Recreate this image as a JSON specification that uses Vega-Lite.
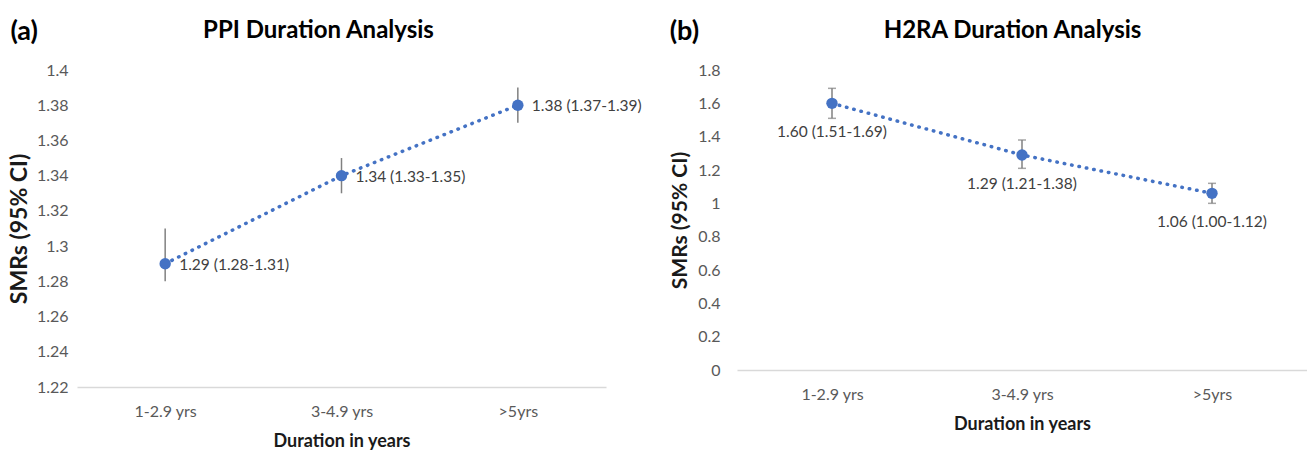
{
  "$schema": "https://vega.github.io/schema/vega-lite/v6.json",
  "padding": {"left": 8, "top": 18, "right": 0, "bottom": 0},
  "spacing": 27,
  "config": {
    "font": "Lato",
    "view": {"stroke": null},
    "axis": {"grid": false, "ticks": false, "labelColor": "#595959", "labelFontSize": 16, "titleFontSize": 18, "titleFontWeight": "bold", "titleColor": "#1a1a1a", "labelOverlap": false}
  },
  "hconcat": [
    {
      "width": 529,
      "height": 317,
      "title": {"text": "(a)", "anchor": "start", "frame": "bounds", "fontSize": 27, "fontWeight": "bold", "color": "#000000", "offset": -28, "dx": 2},
      "data": {"values": [
        {"dur": "1-2.9 yrs", "smr": 1.29, "lo": 1.28, "hi": 1.31, "label": "1.29 (1.28-1.31)"},
        {"dur": "3-4.9 yrs", "smr": 1.34, "lo": 1.33, "hi": 1.35, "label": "1.34 (1.33-1.35)"},
        {"dur": ">5yrs", "smr": 1.38, "lo": 1.37, "hi": 1.39, "label": "1.38 (1.37-1.39)"}
      ]},
      "layer": [
        {
          "mark": {"type": "rule", "color": "#808080", "strokeWidth": 1.5},
          "encoding": {
            "x": {"field": "dur", "type": "nominal", "sort": null, "scale": {"type": "point", "padding": 0.5},
              "axis": {"orient": "bottom", "title": "Duration in years", "labelAngle": 0, "domainColor": "#d9d9d9", "domainWidth": 1.5, "labelPadding": 16, "titlePadding": 13}},
            "y": {"field": "lo", "type": "quantitative", "title": "SMRs (95% CI)", "scale": {"domain": [1.22, 1.4], "nice": false, "zero": false},
              "axis": {"values": [1.22, 1.24, 1.26, 1.28, 1.3, 1.32, 1.34, 1.36, 1.38, 1.4], "tickCount": 20, "format": "~g", "domain": false, "labelPadding": 9, "titlePadding": 5, "titleFontSize": 23, "labelOverlap": false, "labelFlush": false, "labelBound": false}},
            "y2": {"field": "hi"}
          }
        },
        {
          "mark": {"type": "line", "color": "#4472C4", "strokeWidth": 3.5, "strokeDash": [0.5, 7], "strokeCap": "round"},
          "encoding": {
            "x": {"field": "dur", "type": "nominal", "sort": null, "axis": null},
            "y": {"field": "smr", "type": "quantitative", "title": "SMRs (95% CI)"}
          }
        },
        {
          "mark": {"type": "point", "filled": true, "opacity": 1, "color": "#4472C4", "size": 130},
          "encoding": {
            "x": {"field": "dur", "type": "nominal", "sort": null, "axis": null},
            "y": {"field": "smr", "type": "quantitative", "title": "SMRs (95% CI)"}
          }
        },
        {
          "mark": {"type": "text", "align": "left", "baseline": "middle", "dx": 14, "dy": 1, "fontSize": 15.5, "color": "#404040"},
          "encoding": {
            "x": {"field": "dur", "type": "nominal", "sort": null,
              "axis": {"orient": "top", "labels": false, "domain": false, "title": "PPI Duration Analysis", "titleFontSize": 24, "titleColor": "#000000", "titleX": 241, "titleAlign": "center", "titlePadding": 28}},
            "y": {"field": "smr", "type": "quantitative", "title": "SMRs (95% CI)"},
            "text": {"field": "label"}
          }
        }
      ],
      "resolve": {"axis": {"x": "independent"}}
    },
    {
      "width": 570,
      "height": 300,
      "title": {"text": "(b)", "anchor": "start", "frame": "bounds", "fontSize": 27, "fontWeight": "bold", "color": "#000000", "offset": -28},
      "data": {"values": [
        {"dur": "1-2.9 yrs", "smr": 1.6, "lo": 1.51, "hi": 1.69, "label": "1.60 (1.51-1.69)"},
        {"dur": "3-4.9 yrs", "smr": 1.29, "lo": 1.21, "hi": 1.38, "label": "1.29 (1.21-1.38)"},
        {"dur": ">5yrs", "smr": 1.06, "lo": 1.0, "hi": 1.12, "label": "1.06 (1.00-1.12)"}
      ]},
      "layer": [
        {
          "mark": {"type": "rule", "color": "#808080", "strokeWidth": 1.5},
          "encoding": {
            "x": {"field": "dur", "type": "nominal", "sort": null, "scale": {"type": "point", "padding": 0.5},
              "axis": {"orient": "bottom", "title": "Duration in years", "labelAngle": 0, "domainColor": "#d9d9d9", "domainWidth": 1.5, "labelPadding": 16, "titlePadding": 13}},
            "y": {"field": "lo", "type": "quantitative", "title": "SMRs (95% CI)", "scale": {"domain": [0, 1.8], "nice": false},
              "axis": {"values": [0, 0.2, 0.4, 0.6, 0.8, 1, 1.2, 1.4, 1.6, 1.8], "tickCount": 20, "format": "~g", "domain": false, "labelPadding": 17, "titlePadding": 7, "titleFontSize": 21, "labelOverlap": false, "labelFlush": false, "labelBound": false}},
            "y2": {"field": "hi"}
          }
        },
        {
          "mark": {"type": "tick", "color": "#808080", "thickness": 1.5, "size": 8, "orient": "horizontal"},
          "encoding": {
            "x": {"field": "dur", "type": "nominal", "sort": null, "axis": null},
            "y": {"field": "lo", "type": "quantitative", "title": "SMRs (95% CI)"}
          }
        },
        {
          "mark": {"type": "tick", "color": "#808080", "thickness": 1.5, "size": 8, "orient": "horizontal"},
          "encoding": {
            "x": {"field": "dur", "type": "nominal", "sort": null, "axis": null},
            "y": {"field": "hi", "type": "quantitative", "title": "SMRs (95% CI)"}
          }
        },
        {
          "mark": {"type": "line", "color": "#4472C4", "strokeWidth": 3.5, "strokeDash": [0.5, 7], "strokeCap": "round"},
          "encoding": {
            "x": {"field": "dur", "type": "nominal", "sort": null, "axis": null},
            "y": {"field": "smr", "type": "quantitative", "title": "SMRs (95% CI)"}
          }
        },
        {
          "mark": {"type": "point", "filled": true, "opacity": 1, "color": "#4472C4", "size": 130},
          "encoding": {
            "x": {"field": "dur", "type": "nominal", "sort": null, "axis": null},
            "y": {"field": "smr", "type": "quantitative", "title": "SMRs (95% CI)"}
          }
        },
        {
          "mark": {"type": "text", "align": "center", "baseline": "middle", "dy": 29, "fontSize": 15.5, "color": "#404040"},
          "encoding": {
            "x": {"field": "dur", "type": "nominal", "sort": null,
              "axis": {"orient": "top", "labels": false, "domain": false, "title": "H2RA Duration Analysis", "titleFontSize": 24, "titleColor": "#000000", "titleX": 275, "titleAlign": "center", "titlePadding": 28}},
            "y": {"field": "smr", "type": "quantitative", "title": "SMRs (95% CI)"},
            "text": {"field": "label"}
          }
        }
      ],
      "resolve": {"axis": {"x": "independent"}}
    }
  ]
}
